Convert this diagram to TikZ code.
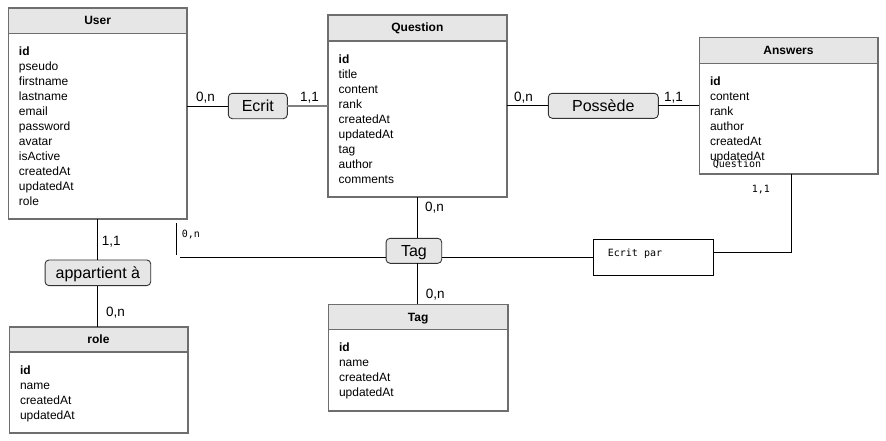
\documentclass[tikz,border=0pt]{standalone}
\usepackage{fontspec}
\setmainfont{Liberation Sans}
\newfontfamily\monofnt{DejaVu Sans Mono}
\usetikzlibrary{calc}
\definecolor{hdrgray}{HTML}{E6E6E6}
\definecolor{bordgray}{HTML}{6E6E6E}
\definecolor{relborder}{HTML}{333333}
\tikzset{
 entity/.style={rectangle, inner sep=0pt, outer sep=0pt},
 entline/.style={draw=bordgray, line width=1.6pt},
 hdrtext/.style={font=\fontsize{12}{14}\selectfont\bfseries, inner sep=0pt},
 attr/.style={font=\fontsize{12}{14}\selectfont, inner sep=0pt},
 rel/.style={draw=relborder, line width=0.9pt, fill=hdrgray, rounded corners=4pt, inner sep=0pt, outer sep=0pt, font=\fontsize{16}{18}\selectfont, text height=11.5pt, text depth=0pt},
 card/.style={font=\fontsize{13.5}{15}\selectfont, inner sep=0pt, anchor=base west},
 mono/.style={font=\monofnt\fontsize{10}{12}\selectfont, inner sep=0pt, anchor=base west},
 conn/.style={line width=1pt, black},
}
\newcommand\erentity[8]{%
  \node[entity, minimum width=#4pt, minimum height=#5pt, anchor=north west] (#1) at (#2,#3) {};
  \fill[hdrgray] (#1.north west) rectangle ([yshift=-#6pt]#1.north east);
  \draw[entline] ([yshift=-#6pt]#1.north west) -- ([yshift=-#6pt]#1.north east);
  \draw[entline] (#1.north west) rectangle (#1.south east);
  \node[hdrtext, anchor=base] (#1-title) at ([yshift=-16.8pt]#1.north) {#7};
  \foreach \a [count=\i from 0] in {#8}
    \node[attr, anchor=base west] (#1-a\i) at ([xshift=10.5pt, yshift=-#6pt-22.4pt-15pt*\i]#1.north west) {\a};
}
\begin{document}
\begin{tikzpicture}[x=1pt,y=-1pt]
\useasboundingbox (0,0) rectangle (886,440);

\erentity{user}{8.3}{8}{178.7}{211}{25.3}{User}{\textbf{id},pseudo,firstname,lastname,email,password,avatar,isActive,createdAt,updatedAt,role}
\erentity{question}{328}{15}{178.7}{181.7}{26}{Question}{\textbf{id},title,content,rank,createdAt,updatedAt,tag,author,comments}
\erentity{answers}{699.3}{37.3}{178.4}{136.7}{26}{Answers}{\textbf{id},content,rank,author,createdAt,updatedAt}
\erentity{role}{9.3}{326.7}{178.4}{106}{25}{role}{\textbf{id},name,createdAt,updatedAt}
\erentity{tag}{328.3}{304.3}{179.7}{106.7}{25}{Tag}{\textbf{id},name,createdAt,updatedAt}

\node[rel, minimum width=59pt, minimum height=25.4pt] (ecrit) at (257.8,106) {Ecrit};
\node[rel, minimum width=110pt, minimum height=25pt] (possede) at (603.3,105.8) {Possède};
\node[rel, minimum width=55.7pt, minimum height=25pt] (tagrel) at (413.9,250.8) {Tag};
\node[rel, minimum width=105.7pt, minimum height=25.7pt] (appart) at (97.9,272.8) {appartient à};
\node[draw, line width=1pt, minimum width=119.6pt, minimum height=35.7pt, anchor=north west, inner sep=0pt, outer sep=0pt] (ecritpar) at (593.7,239.3) {};

% connectors
\draw[conn] (user.east |- ecrit.west) -- (ecrit.west);
\draw[conn, draw=gray, line width=1.5pt] (ecrit.east) -- (ecrit.east -| question.west);
\draw[conn] (question.east |- possede.west) -- (possede.west);
\draw[conn] (possede.east) -- (possede.east -| answers.west);
\draw[conn] (appart.north) -- (appart.north |- user.south);
\draw[conn] (appart.south) -- (appart.south |- role.north);
\coordinate (tx) at (417.3,0);
\draw[conn] (tagrel.north -| tx) -- (question.south -| tx);
\draw[conn] (tagrel.south -| tx) -- (tag.north -| tx);
\coordinate (hy) at (0,257.3);
\coordinate (leftend) at (180,257.3);
\draw[conn] (tagrel.west |- hy) -- (leftend);
\draw[conn] (tagrel.east |- hy) -- (ecritpar.west |- hy);
\coordinate (vtop) at (176.7,223.3);
\coordinate (vbot) at (176.7,255);
\draw[conn] (vtop) -- (vbot);
\coordinate (ax) at (791.7,0);
\coordinate (ey) at (0,252.7);
\draw[conn] (answers.south -| ax) |- (ecritpar.east |- ey);

% cardinalities
\node[card] (c1) at (196,101) {0,n};
\node[card] (c2) at (300,101) {1,1};
\node[card] (c3) at (514,101) {0,n};
\node[card] (c4) at (664,101) {1,1};
\node[card] (c5) at (425,211.7) {0,n};
\node[card] (c6) at (425.7,298) {0,n};
\node[card] (c7) at (101.7,245.7) {1,1};
\node[card] (c8) at (106,316.7) {0,n};
\node[mono] (m1) at (181.7,237.3) {0,n};
\node[mono] (m2) at (751.7,192) {1,1};
\node[mono] (m3) at (712.7,167.3) {Question};
\node[mono] (m4) at (607.7,256) {Ecrit par};
\end{tikzpicture}
\end{document}
